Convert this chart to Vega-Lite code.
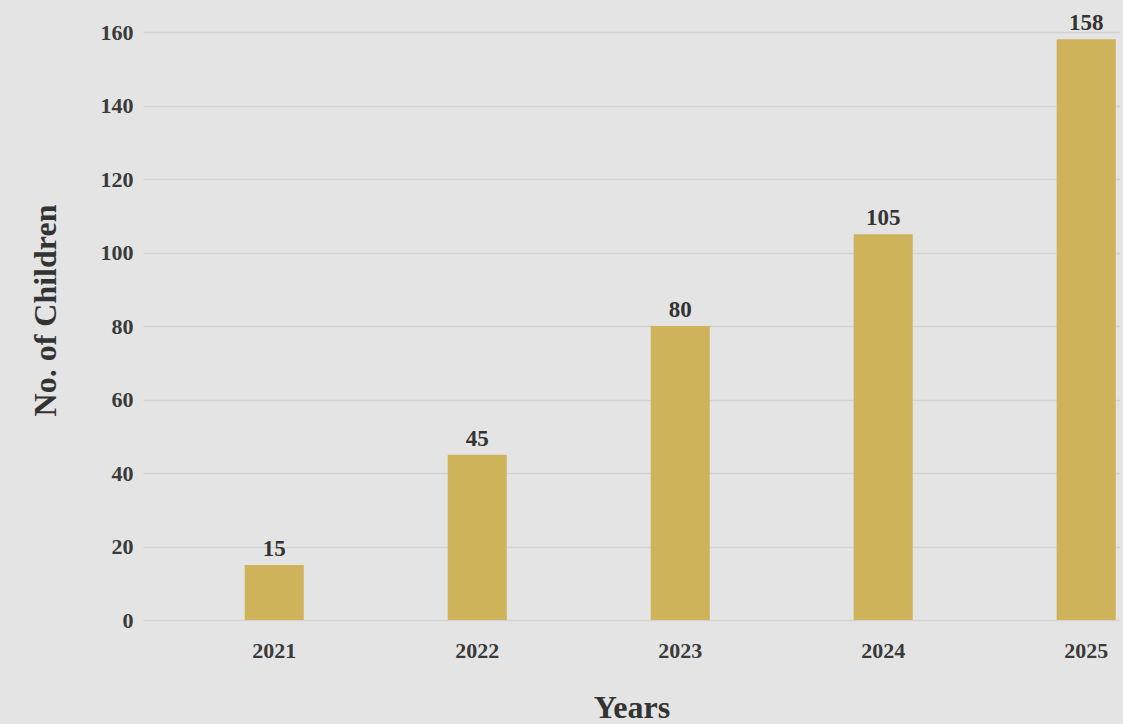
{
  "$schema": "https://vega.github.io/schema/vega-lite/v6.json",
  "autosize": "none",
  "width": 977,
  "height": 588,
  "padding": {"left": 143, "top": 32, "right": 3, "bottom": 104},
  "background": "#e4e4e4",
  "config": {
    "view": {"stroke": null},
    "font": "Liberation Serif"
  },
  "data": {
    "values": [
      {"year": "2021", "children": 15},
      {"year": "2022", "children": 45},
      {"year": "2023", "children": 80},
      {"year": "2024", "children": 105},
      {"year": "2025", "children": 158}
    ]
  },
  "encoding": {
    "x": {
      "field": "year",
      "type": "ordinal",
      "title": "Years",
      "scale": {"paddingInner": 0.709, "paddingOuter": 0.261, "align": 0.96},
      "axis": {
        "labelAngle": 0,
        "labelFont": "Liberation Serif",
        "labelFontSize": 22,
        "labelFontWeight": "bold",
        "labelColor": "#3a3a3a",
        "labelPadding": 20,
        "ticks": false,
        "domain": false,
        "titleFont": "Liberation Serif",
        "titleFontSize": 32,
        "titleFontWeight": "bold",
        "titleColor": "#333333",
        "titleBaseline": "alphabetic",
        "titleY": 97
      }
    },
    "y": {
      "field": "children",
      "type": "quantitative",
      "title": "No. of Children",
      "scale": {"domain": [0, 160], "nice": false},
      "axis": {
        "values": [0, 20, 40, 60, 80, 100, 120, 140, 160],
        "labelFont": "Liberation Serif",
        "labelFontSize": 22,
        "labelFontWeight": "bold",
        "labelColor": "#3a3a3a",
        "labelPadding": 10,
        "ticks": false,
        "domain": false,
        "grid": true,
        "gridColor": "#d2d2d2",
        "gridWidth": 1.5,
        "titleFont": "Liberation Serif",
        "titleFontSize": 32,
        "titleFontWeight": "bold",
        "titleColor": "#333333",
        "titleBaseline": "alphabetic",
        "titleX": -88,
        "titleY": 278
      }
    }
  },
  "layer": [
    {"mark": {"type": "bar", "color": "#cfb35b"}},
    {
      "mark": {
        "type": "text",
        "baseline": "alphabetic",
        "dy": -9,
        "font": "Liberation Serif",
        "fontSize": 23,
        "fontWeight": "bold",
        "color": "#333333"
      },
      "encoding": {"text": {"field": "children", "type": "quantitative"}}
    }
  ]
}
